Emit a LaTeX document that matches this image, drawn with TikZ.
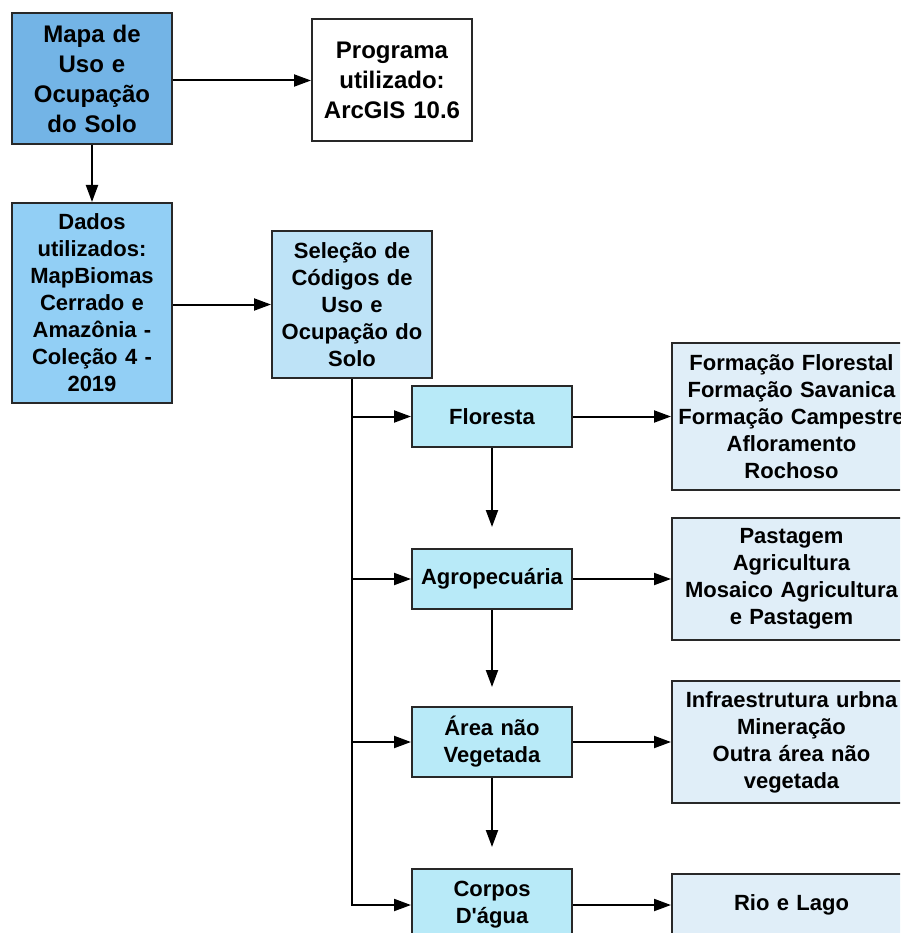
\documentclass[tikz,border=0pt]{standalone}
\usepackage{fontspec}
\setmainfont{Liberation Sans}[Ligatures=TeXOff]
\usetikzlibrary{arrows.meta}

\definecolor{mapacol}{RGB}{115,180,230}
\definecolor{dadoscol}{RGB}{146,207,245}
\definecolor{selcol}{RGB}{190,227,247}
\definecolor{classcol}{RGB}{184,234,248}
\definecolor{codcol}{RGB}{224,238,248}
\definecolor{edgecol}{RGB}{40,40,40}

\begin{document}
\begin{tikzpicture}[x=1pt, y=-1pt,
		box/.style={rectangle, draw=edgecol, line width=2pt, inner sep=0pt,
			minimum width=160pt, text width=156pt, align=center,
			font=\bfseries\fontsize{22}{27}\selectfont},
		big/.style={font=\bfseries\fontsize{24}{30}\selectfont},
		wide/.style={box, minimum width=239pt, text width=235pt},
		conn/.style={->, line width=2pt},
		>={Triangle[length=17pt, width=12pt]}]
		\useasboundingbox (0, 0) rectangle (900, 933);
		\clip (0, 0) rectangle (900, 933);
		\path (92, 79) node(mapa) [box, big, fill=mapacol, minimum height=131pt] {Mapa de\\Uso e\\Ocupação\\do Solo};
		\path (392, 80.5) node(prog) [box, big, fill=white, minimum height=122pt] {Programa\\utilizado:\\ArcGIS 10.6};
		\path (92, 303) node(dados) [box, fill=dadoscol, minimum height=200pt] {Dados\\utilizados:\\MapBiomas\\Cerrado e\\Amazônia -\\Coleção 4 -\\2019};
		\path (352, 304.5) node(sel) [box, fill=selcol, minimum height=147pt] {Seleção de\\Códigos de\\Uso e\\Ocupação do\\Solo};
		\path (492, 416.5) node(flo) [box, fill=classcol, minimum height=61pt] {Floresta};
		\path (492, 579) node(agro) [box, fill=classcol, minimum height=60pt] {Agropecuária};
		\path (492, 742) node(area) [box, fill=classcol, minimum height=70pt] {Área não\\Vegetada};
		\path (492, 905) node(agua) [box, fill=classcol, minimum height=72pt] {Corpos\\D'água};
		\path (791.5, 416.5) node(cflo) [wide, fill=codcol, minimum height=147pt] {Formação Florestal\\Formação Savanica\\Formação Campestre\\Afloramento\\Rochoso};
		\path (791.5, 579) node(cagro) [wide, fill=codcol, minimum height=122pt] {Pastagem\\Agricultura\\Mosaico Agricultura\\e Pastagem};
		\path (791.5, 742) node(carea) [wide, fill=codcol, minimum height=122pt] {Infraestrutura urbna\\Mineração\\Outra área não\\vegetada};
		\path (791.5, 905) node(cagua) [wide, fill=codcol, minimum height=62pt] {Rio e Lago};
		\draw [conn] (mapa.east |- prog) to (prog);
		\draw [conn] (mapa) to (dados);
		\draw [conn] (dados.east |- sel) to (sel);
		\draw [conn] (sel.south) |- (flo.west);
		\draw [conn] (sel.south) |- (agro.west);
		\draw [conn] (sel.south) |- (area.west);
		\draw [conn] (sel.south) |- (agua.west);
		\draw [conn, shorten >=21pt] (flo) to (agro);
		\draw [conn, shorten >=19pt] (agro) to (area);
		\draw [conn, shorten >=21pt] (area) to (agua);
		\draw [conn] (flo) to (cflo);
		\draw [conn] (agro) to (cagro);
		\draw [conn] (area) to (carea);
		\draw [conn] (agua) to (cagua);
	\end{tikzpicture}
\end{document}
